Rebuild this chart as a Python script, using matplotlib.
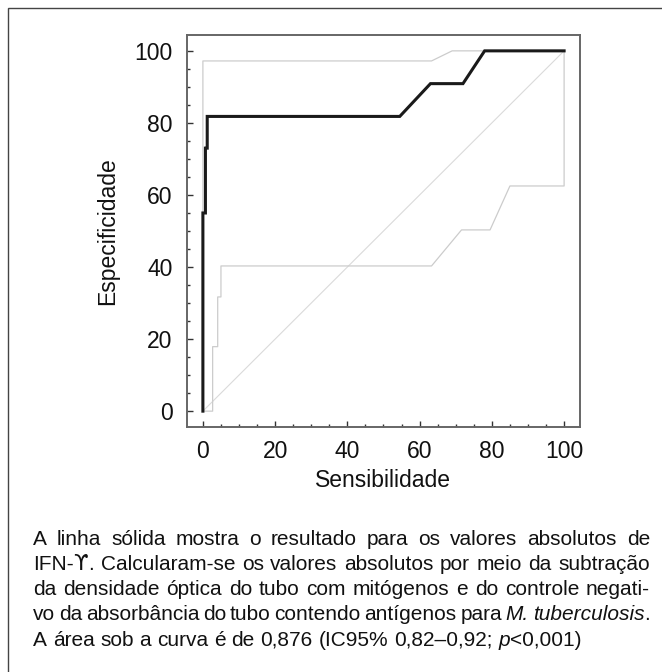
import matplotlib
matplotlib.use("Agg")
import matplotlib.pyplot as plt
from matplotlib.patches import Rectangle
from matplotlib.ticker import MultipleLocator
from matplotlib.transforms import IdentityTransform

# ROC curve (solid) and its confidence band (light grey)
roc_x = [0, 0, 0.7, 0.7, 1.2, 1.2, 54.5, 63, 72, 78, 100]
roc_y = [0, 55, 55, 73, 73, 81.8, 81.8, 90.9, 90.9, 100, 100]

upper_x = [0, 0, 63.3, 69, 100]
upper_y = [0, 97.2, 97.2, 100, 100]

lower_x = [0, 2.7, 2.7, 4.1, 4.1, 5, 5, 63.3, 71.6, 79.5, 85, 100, 100]
lower_y = [0, 0, 17.9, 17.9, 31.7, 31.7, 40.3, 40.3, 50.3, 50.3, 62.5, 62.5, 100]

ref_x = [0, 100]
ref_y = [0, 100]

ticks = [0, 20, 40, 60, 80, 100]
xlabel = "Sensibilidade"
ylabel = "Especificidade"

# caption: *...* = italic, {...} = symbol font
caption = [
    "A linha sólida mostra o resultado para os valores absolutos de",
    "IFN-{ϒ}. Calcularam-se os valores absolutos por meio da subtração",
    "da densidade óptica do tubo com mitógenos e do controle negati-",
    "vo da absorbância do tubo contendo antígenos para *M.* *tuberculosis*.",
    "A área sob a curva é de 0,876 (IC95% 0,82–0,92; *p*<0,001)",
]

W, H = 662, 672
FAM = ["Liberation Sans", "DejaVu Sans"]
plt.rcParams["font.family"] = FAM

fig = plt.figure(figsize=(W / 100, H / 100), dpi=100)
fig.patch.set_facecolor("white")

# outer frame (right and bottom edges run past the picture)
fig.patches.append(Rectangle((8 / W, -30 / H), 700 / W, (H - 8 + 30) / H, transform=fig.transFigure,
                             fill=False, edgecolor="#444444", linewidth=1.0))

ax = fig.add_axes([187 / W, (H - 427) / H, 393 / W, 392 / H])
ax.plot(ref_x, ref_y, color="#dadada", lw=0.8)
ax.plot(upper_x, upper_y, color="#cccccc", lw=0.9)
ax.plot(lower_x, lower_y, color="#cccccc", lw=0.9)
ax.plot(roc_x, roc_y, color="#1a1a1a", lw=2.2, solid_joinstyle="miter")

ax.set_xlim(-4.4, 104.4)
ax.set_ylim(-4.4, 104.4)
ax.set_xticks(ticks)
ax.set_yticks(ticks)
ax.xaxis.set_minor_locator(MultipleLocator(5))
ax.yaxis.set_minor_locator(MultipleLocator(5))
ax.tick_params(which="both", direction="in", colors="#333333", labelcolor="#111111",
               top=False, right=False)
ax.tick_params(which="major", length=4, width=1.0, labelsize=16.5)
ax.tick_params(axis="y", which="major", pad=10.5)
ax.tick_params(axis="x", which="major", pad=9)
ax.tick_params(which="minor", length=2, width=1.0)
for s in ax.spines.values():
    s.set_color("#666666")
    s.set_linewidth(1.4)

fig.text(383 / W, (H - 487) / H, xlabel, ha="center", va="baseline", fontsize=16.5, color="#111111")
fig.text(108 / W, (H - 231) / H, ylabel, ha="center", va="center", rotation=90,
         fontsize=16.5, color="#111111")

# justified caption, word by word
renderer = fig.canvas.get_renderer()
LEFT, RIGHT = 33, 650
CAP_FS = 15
baselines = [545, 570, 595, 620, 646]


def split_segments(word):
    # returns list of (text, style, family)
    out = []
    for i, s in enumerate(word.split("*")):
        style = "italic" if i % 2 else "normal"
        parts = s.replace("}", "{").split("{")
        for j, p in enumerate(parts):
            if p:
                out.append((p, style, ["DejaVu Sans"] if j % 2 else FAM))
    return out


def draw_line(line, ybase, justify):
    words = []
    for w in line.split(" "):
        items = []
        off = 0
        for s, style, fam in split_segments(w):
            t = fig.text(0, H - ybase, s, transform=IdentityTransform(), fontsize=CAP_FS,
                         family=fam, style=style, ha="left", va="baseline", color="#111111")
            bw = t.get_window_extent(renderer).width
            items.append((t, off))
            off += bw
        words.append((items, off))
    total = sum(w for _, w in words)
    gap = (RIGHT - LEFT - total) / (len(words) - 1) if justify else CAP_FS * 100 / 72 * 0.28
    x = LEFT
    for items, ww in words:
        for t, o in items:
            t.set_x(x + o)
        x += ww + gap


for i, (line, yb) in enumerate(zip(caption, baselines)):
    draw_line(line, yb, i < len(caption) - 1)

fig.savefig("out.png", dpi=100, facecolor="white")
